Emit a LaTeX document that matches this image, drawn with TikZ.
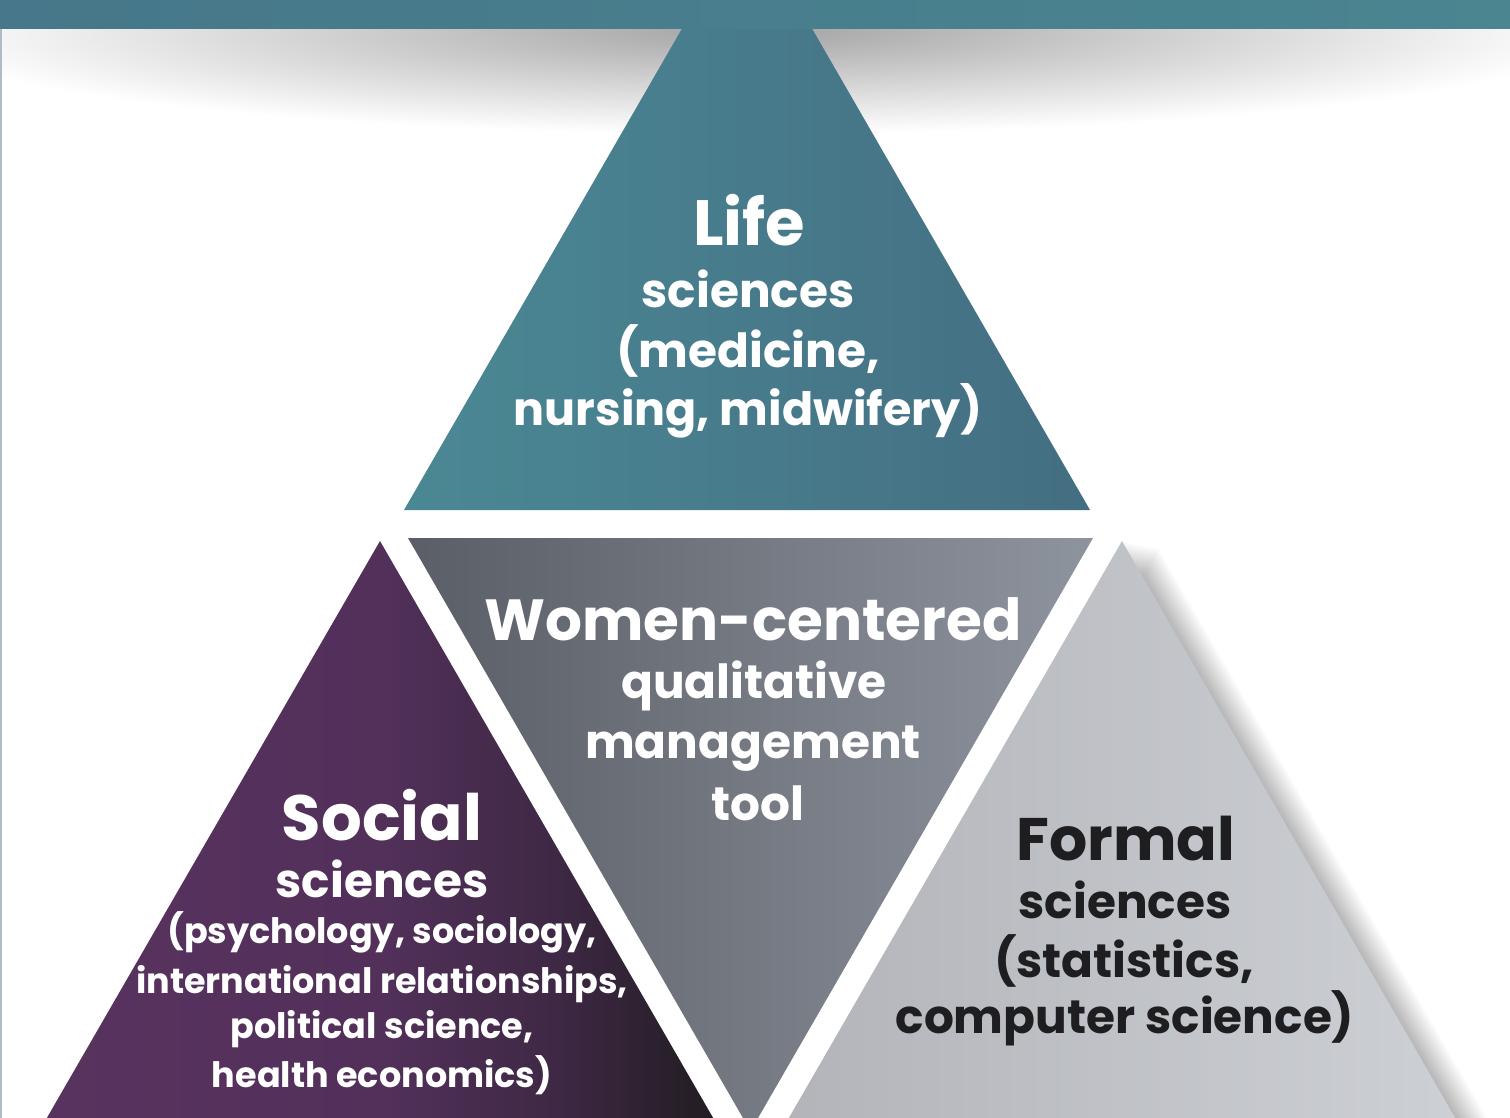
\documentclass[tikz,border=0pt]{standalone}
\usepackage{fontspec}
\setmainfont{Poppins}
\definecolor{barL}{HTML}{46778A}
\definecolor{barR}{HTML}{4A8590}
\definecolor{lifeL}{HTML}{4A8894}
\definecolor{lifeR}{HTML}{446E82}
\definecolor{midL}{HTML}{5A5E66}
\definecolor{midR}{HTML}{8E949E}
\definecolor{socL}{HTML}{58335F}
\definecolor{socM}{HTML}{52305A}
\definecolor{socN}{HTML}{3E2844}
\definecolor{socR}{HTML}{201C20}
\definecolor{forL}{HTML}{B2B4B9}
\definecolor{forR}{HTML}{CDD0D5}
\definecolor{darktext}{HTML}{1E1E20}
\pgfdeclarehorizontalshading{socshade}{100bp}{color(0bp)=(socL); color(25bp)=(socL); color(50bp)=(socM); color(63bp)=(socN); color(75bp)=(socR); color(100bp)=(socR)}
\begin{document}
\begin{tikzpicture}[x=1pt,y=-1pt,
  head/.style={anchor=base, inner sep=0pt, font=\fontsize{62}{62}\selectfont\bfseries},
  sub/.style={anchor=base, inner sep=0pt, font=\fontsize{47}{47}\selectfont\bfseries},
  tiny/.style={anchor=base, inner sep=0pt, font=\fontsize{35}{35}\selectfont\bfseries}]
\useasboundingbox (0,0) rectangle (1510,1118);
\clip (0,0) rectangle (1510,1118);
\fill[white] (0,0) rectangle (1510,1118);
% shadow under the bar
\begin{scope}
  \clip (0,29) rectangle (1510,300);
  \shade[inner color=black!36, outer color=white] (750,29) ellipse [x radius=850, y radius=105];
\end{scope}
% left border line
\fill[black!25!barL!40] (0,29) rectangle (2,1118);
% top triangle
\shade[left color=lifeL, right color=lifeR] (747,-84) -- (1090,510) -- (404,510) -- cycle;
% top bar
\shade[left color=barL, right color=barR] (0,0) rectangle (1510,29);
% shadow of the right triangle
\foreach \i in {1,...,18}{
  \begin{scope}[shift={(\i*2,\i*0.4)}]
    \fill[black, opacity=0.015] (1122,541) -- (1465,1135) -- (779,1135) -- cycle;
  \end{scope}
}
% middle triangle
\shade[left color=midL, right color=midR] (408,538) -- (1093,538) -- (750.5,1131) -- cycle;
% left triangle
\shade[shading=socshade] (380,541) -- (723,1135) -- (37,1135) -- cycle;
% right triangle
\shade[left color=forL, right color=forR] (1122,541) -- (1465,1135) -- (779,1135) -- cycle;
% Life
\node[head, white, font=\fontsize{64}{64}\selectfont\bfseries] (life1) at (749,245) {Life};
\node[sub, white] (life2) at (748,307) {sciences};
\node[sub, white] (life3) at (748,367) {(medicine,};
\node[sub, white, font=\fontsize{46}{46}\selectfont\bfseries] (life4) at (748,425) {nursing, midwifery)};
% Women-centered
\node[head, white, font=\fontsize{58}{58}\selectfont\bfseries] (mid1) at (753,640) {Women-centered};
\node[sub, white] (mid2) at (754,698) {qualitative};
\node[sub, white] (mid3) at (753,758) {management};
\node[sub, white] (mid4) at (758,820) {tool};
% Social
\node[head, white, font=\fontsize{64}{64}\selectfont\bfseries] (soc1) at (382,840) {Social};
\node[sub, white] (soc2) at (382,897) {sciences};
\node[tiny, white] (soc3) at (382,943) {(psychology, sociology,};
\node[tiny, white] (soc4) at (382,993) {international relationships,};
\node[tiny, white] (soc5) at (382,1038) {political science,};
\node[tiny, white] (soc6) at (382,1087) {health economics)};
% Formal
\node[head, darktext, font=\fontsize{60}{60}\selectfont\bfseries] (for1) at (1126,860) {Formal};
\node[sub, darktext] (for2) at (1125,918) {sciences};
\node[sub, darktext] (for3) at (1124,977) {(statistics,};
\node[sub, darktext] (for4) at (1125,1033) {computer science)};
\end{tikzpicture}
\end{document}
